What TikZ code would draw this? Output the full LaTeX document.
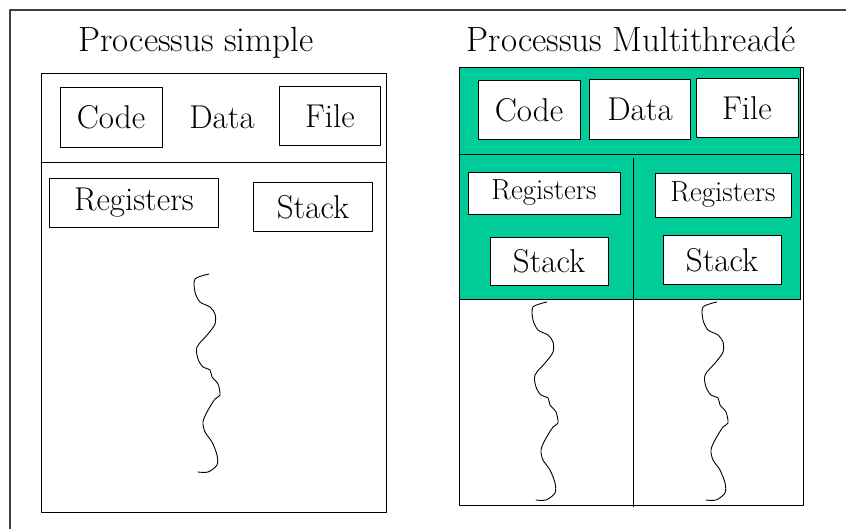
\documentclass[tikz,border=0pt]{standalone}
\usetikzlibrary{calc}
\definecolor{vert}{RGB}{0,204,153}
\begin{document}
\begin{tikzpicture}[x=1pt,y=-1pt,line join=round,line cap=round,line width=0.9pt,
boite/.style={draw,fill=white,inner sep=0pt,font=\fontsize{33}{38}\selectfont},
petite/.style={boite,font=\fontsize{29}{34}\selectfont},
titre/.style={anchor=base,font=\fontsize{35}{40}\selectfont}]
\useasboundingbox (0,0) rectangle (846,529);
\draw[line width=1.2pt,black!75](846,10)--(10,10)--(10,529);
% processus simple
\coordinate (S1) at (41,73);
\coordinate (S2) at (386,512);
\draw(S1) rectangle (S2) (41,162)--(386,162);
\node[titre] (tsimple) at (196,52) {Processus simple};
\node[boite,minimum width=102,minimum height=60] (code1) at (111,117) {Code};
\node[font=\fontsize{33}{38}\selectfont] (data1) at (222,117) {Data};
\node[boite,minimum width=101,minimum height=59] (file1) at (330,116) {File};
\node[boite,minimum width=169,minimum height=49] (reg1) at (134,203) {Registers};
\node[boite,minimum width=119,minimum height=49] (pile1) at (313,207) {Stack};
% processus multithreade
\coordinate (M1) at (459,67);
\coordinate (M2) at (803,505);
\draw[fill=vert](M1) rectangle (800,299);
\draw(M1) rectangle (M2) (459,154)--(803,154) (633,158)--(633,507);
\node[titre] (tmulti) at (631,52) {Processus Multithreadé};
\node[boite,minimum width=102,minimum height=59] (code2) at (529,110) {Code};
\node[boite,minimum width=101,minimum height=60] (data2) at (640,109) {Data};
\node[boite,minimum width=102,minimum height=59] (file2) at (747,108) {File};
\node[petite,minimum width=152,minimum height=42] (reg2) at (544,193) {Registers};
\node[boite,minimum width=118,minimum height=48] (pile2) at (549,261) {Stack};
\node[petite,minimum width=136,minimum height=44] (reg3) at (723,195) {Registers};
\node[boite,minimum width=118,minimum height=49] (pile3) at (722,260) {Stack};
% fils d'execution
\foreach \x/\y in {209/274,547/302,717/302}{\draw[shift={(\x,\y)}] plot[smooth] coordinates {(0,0) (-14,5) (-14,18) (-9,28) (1,33) (6,40) (6,50) (-1,60) (-12,73) (-11,85) (-6,93) (1,96) (3,103) (9,110) (11,121) (6,125) (-2,138) (-6,148) (-4,158) (3,168) (8,181) (8,191) (-1,198) (-11,198)};}
\end{tikzpicture}
\end{document}
